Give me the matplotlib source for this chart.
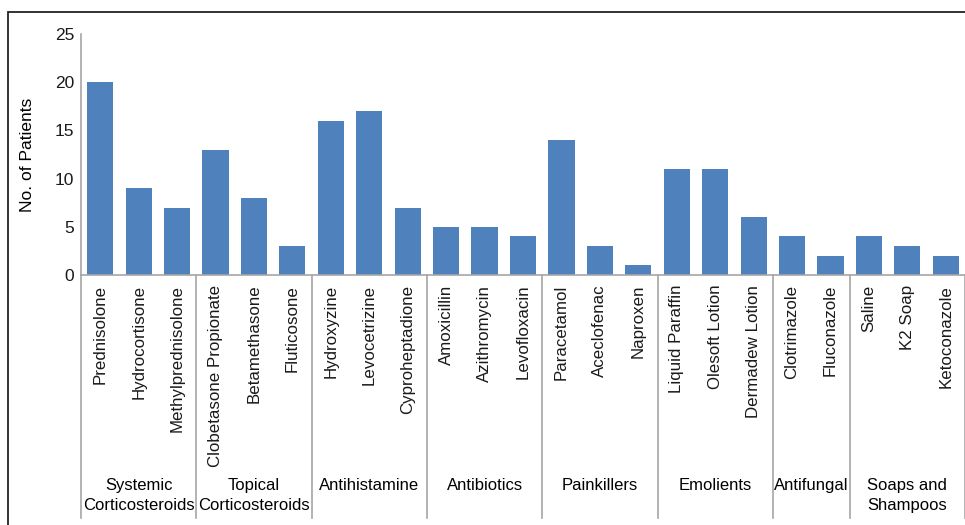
import matplotlib.pyplot as plt
from matplotlib.patches import Rectangle
from matplotlib.transforms import blended_transform_factory

plt.rcParams['font.family'] = ['Liberation Sans', 'DejaVu Sans']

# drug names and patient counts
drugs = ["Prednisolone", "Hydrocortisone", "Methylprednisolone",
         "Clobetasone Propionate", "Betamethasone", "Fluticosone",
         "Hydroxyzine", "Levocetrizine", "Cyproheptadione",
         "Amoxicillin", "Azithromycin", "Levofloxacin",
         "Paracetamol", "Aceclofenac", "Naproxen",
         "Liquid Paraffin", "Olesoft Lotion", "Dermadew Lotion",
         "Clotrimazole", "Fluconazole",
         "Saline", "K2 Soap", "Ketoconazole"]
patients = [20, 9, 7, 13, 8, 3, 16, 17, 7, 5, 5, 4, 14, 3, 1,
            11, 11, 6, 4, 2, 4, 3, 2]

# drug classes and how many drugs are in each
groups = ["Systemic\nCorticosteroids", "Topical\nCorticosteroids", "Antihistamine",
          "Antibiotics", "Painkillers", "Emolients", "Antifungal",
          "Soaps and\nShampoos"]
group_sizes = [3, 3, 3, 3, 3, 3, 2, 3]

grey = "#a6a6a6"

fig = plt.figure(figsize=(9.65, 5.25), dpi=100)
ax = fig.add_axes([81 / 965, 1 - 275 / 525, 1 - 81 / 965, 241 / 525])

x = range(len(drugs))
ax.bar(x, patients, width=0.68, color="#4F81BD")
ax.set_xlim(-0.5, len(drugs) - 0.5)
ax.set_ylim(0, 25)
ax.set_yticks(range(0, 26, 5))
ax.set_xticks(list(x))
ax.set_xticklabels(drugs, rotation=90, fontsize=12.2, va="top", ha="center")
ax.tick_params(axis="both", length=0, colors="#1a1a1a")
ax.tick_params(axis="x", pad=7, labelsize=12.2)
ax.tick_params(axis="y", pad=5, labelsize=12.5)
ax.set_ylabel("No. of Patients", fontsize=12.5, labelpad=14)

for side in ["top", "right"]:
    ax.spines[side].set_visible(False)
for side in ["left", "bottom"]:
    ax.spines[side].set_color(grey)
    ax.spines[side].set_linewidth(1.2)

# group separators and labels under the axis
trans = blended_transform_factory(ax.transData, ax.transAxes)
line_bottom = -(518 - 275) / 241
pos = -0.5
ax.plot([pos, pos], [0, line_bottom], color=grey, lw=1.2,
        transform=trans, clip_on=False)
for name, size in zip(groups, group_sizes):
    end = pos + size
    ax.plot([end, end], [0, line_bottom], color=grey, lw=1.2,
            transform=trans, clip_on=False)
    ax.text((pos + end) / 2, -(478 - 275) / 241, name, transform=trans,
            ha="center", va="top", fontsize=12, linespacing=1.38)
    pos = end

# outer frame
fig.patches.append(Rectangle((8 / 965, -0.1), 1.2, 1 - 12 / 525 + 0.1,
                             transform=fig.transFigure, fill=False,
                             edgecolor="#222222", lw=1.3))

fig.savefig("out.png", dpi=100)
